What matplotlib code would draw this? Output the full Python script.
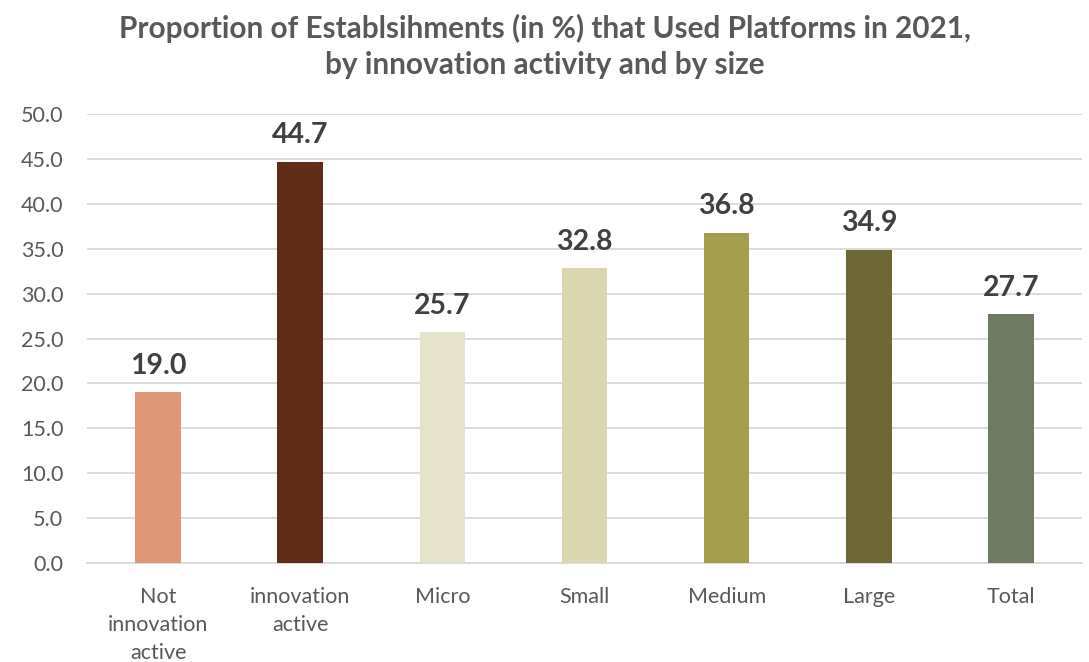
import matplotlib
matplotlib.use("Agg")
import matplotlib.pyplot as plt

categories = ["Not\ninnovation\nactive", "innovation\nactive", "Micro", "Small", "Medium", "Large", "Total"]
values = [19.0, 44.7, 25.7, 32.8, 36.8, 34.9, 27.7]
colors = ["#E0987A", "#5E2C17", "#E5E3CB", "#DAD7B0", "#A39D4E", "#6C6734", "#6E7A61"]
yticks = [0, 5, 10, 15, 20, 25, 30, 35, 40, 45, 50]

plt.rcParams["font.family"] = ["Lato", "DejaVu Sans"]

fig = plt.figure(figsize=(10.89, 6.62), dpi=100)
ax = fig.add_axes([0.0799, 0.1495, 0.9137, 0.6783])

x = range(len(categories))
bars = ax.bar(x, values, width=0.32, color=colors, zorder=3)

for b, v in zip(bars, values):
    ax.text(b.get_x() + b.get_width() / 2, v + 1.5, f"{v:.1f}",
            ha="center", va="bottom", fontsize=20.5, fontweight="bold", color="#404040")

ax.set_xlim(-0.5, len(categories) - 0.5)
ax.set_ylim(0, 50)
ax.set_yticks(yticks)
ax.set_yticklabels([f"{t:.1f}" for t in yticks])
ax.set_xticks(list(x))
ax.set_xticklabels(categories, linespacing=1.52, va="top")
ax.tick_params(axis="both", length=0, labelsize=15.5, colors="#595959")
ax.tick_params(axis="x", pad=17)
ax.tick_params(axis="y", pad=17)

ax.grid(axis="y", color="#D9D9D9", linewidth=1.3, zorder=0)
for s in ["top", "right", "left"]:
    ax.spines[s].set_visible(False)
ax.spines["bottom"].set_color("#D9D9D9")
ax.spines["bottom"].set_linewidth(1.3)

fig.text(0.5, 0.979, "Proportion of Establsihments (in %) that Used Platforms in 2021,\nby innovation activity and by size",
         ha="center", va="top", fontsize=21.4, fontweight="bold", color="#595959", linespacing=1.33)

fig.savefig("out.png", dpi=100)
